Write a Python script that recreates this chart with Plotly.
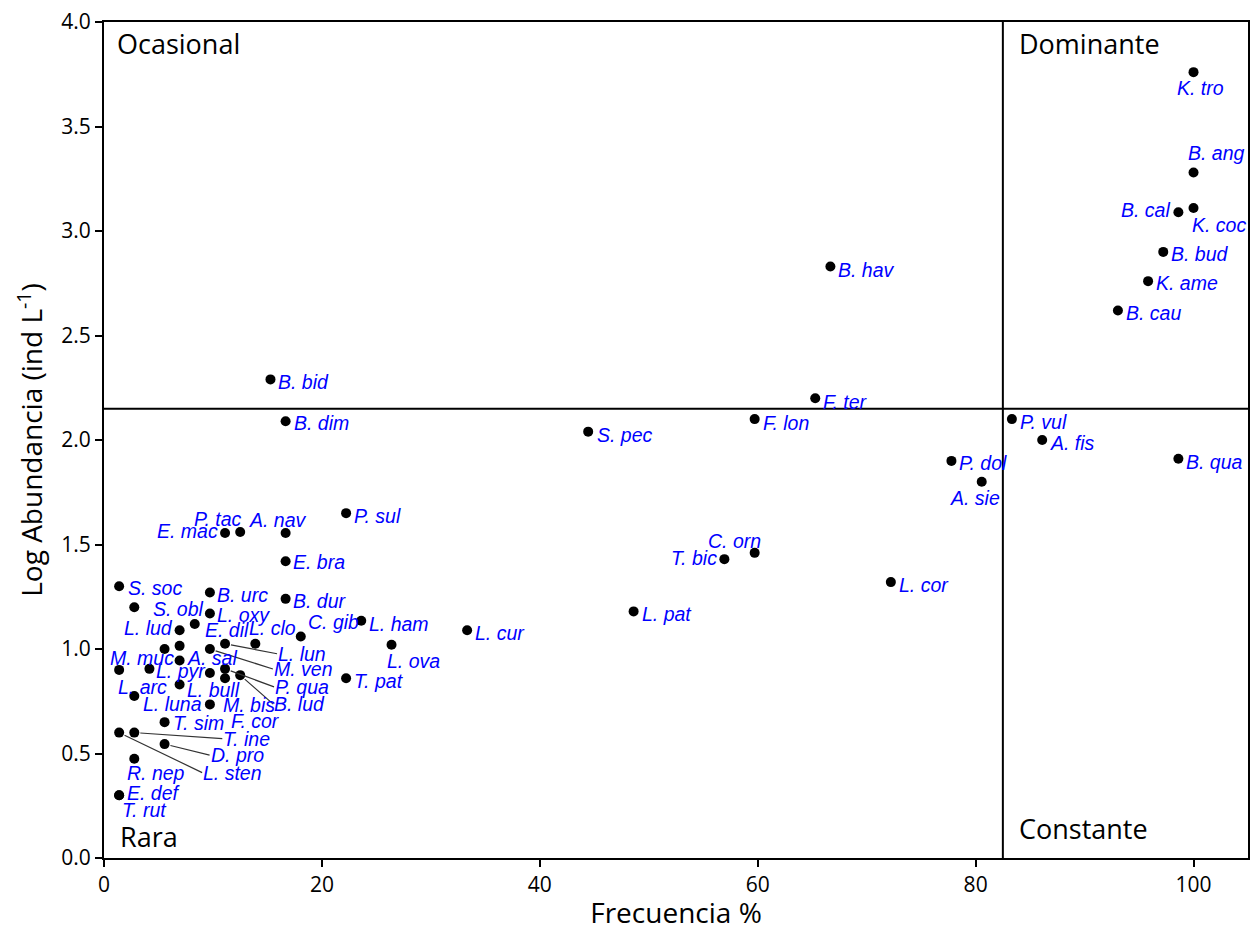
import plotly.graph_objects as go

# Species codes, occurrence frequency (% of 72 samples) and log abundance (ind L-1)
especies = [
    "K. tro", "B. ang", "K. coc", "B. cal", "B. bud", "K. ame", "B. cau",
    "B. hav", "B. bid", "F. ter", "F. lon", "B. dim", "S. pec", "P. vul",
    "A. fis", "P. dol", "A. sie", "B. qua", "P. sul", "E. mac", "P. tac",
    "A. nav", "E. bra", "C. orn", "T. bic", "L. cor", "L. pat", "L. cur",
    "L. ova", "L. ham", "C. gib", "B. dur", "T. pat", "S. soc", "S. obl",
    "B. urc", "L. oxy", "E. dil", "L. lud", "", "", "M. ven", "L. lun",
    "L. clo", "M. muc", "L. pyr", "A. sal", "L. luna", "P. qua", "F. cor",
    "B. lud", "L. bull", "L. arc", "M. bis", "T. sim", "L. sten", "T. ine",
    "D. pro", "R. nep", "E. def", "T. rut",
]
frecuencia = [
    100, 100, 100, 98.61, 97.22, 95.83, 93.06,
    66.67, 15.28, 65.28, 59.72, 16.67, 44.44, 83.33,
    86.11, 77.78, 80.56, 98.61, 22.22, 11.11, 12.5,
    16.67, 16.67, 59.72, 56.94, 72.22, 48.61, 33.33,
    26.39, 23.61, 18.06, 16.67, 22.22, 1.39, 2.78,
    9.72, 9.72, 8.33, 6.94, 5.56, 6.94, 9.72, 11.11,
    13.89, 1.39, 4.17, 6.94, 9.72, 11.11, 11.11,
    12.5, 6.94, 2.78, 9.72, 5.56, 1.39, 2.78,
    5.56, 2.78, 1.39, 1.39,
]
log_abundancia = [
    3.76, 3.28, 3.11, 3.09, 2.90, 2.76, 2.62,
    2.83, 2.29, 2.20, 2.10, 2.09, 2.04, 2.10,
    2.00, 1.90, 1.80, 1.91, 1.65, 1.555, 1.56,
    1.555, 1.42, 1.46, 1.43, 1.32, 1.18, 1.09,
    1.02, 1.135, 1.06, 1.24, 0.86, 1.30, 1.20,
    1.27, 1.17, 1.12, 1.09, 1.00, 1.015, 1.00, 1.025,
    1.025, 0.90, 0.905, 0.945, 0.885, 0.905, 0.86,
    0.875, 0.83, 0.775, 0.735, 0.65, 0.60, 0.60,
    0.545, 0.475, 0.30, 0.30,
]

# Olmstead-Tukey cut-offs (mean frequency and mean log abundance)
corte_frecuencia = 82.5
corte_abundancia = 2.15

# Label placement: (mode, dx, dy) in pixels from the point;
# "l" = text starts at dx, "r" = text ends at dx, "seg" = text joined by a leader line
colocacion = {
    "K. tro": ("l", -18, 16), "B. ang": ("l", -7, -19), "K. coc": ("l", -3, 17),
    "B. cal": ("r", -7, -2), "B. bud": ("l", 7, 2), "K. ame": ("l", 7, 2),
    "B. cau": ("l", 7, 3), "B. hav": ("l", 7, 3), "B. bid": ("l", 7, 3),
    "F. ter": ("l", 7, 4), "F. lon": ("l", 7, 4), "B. dim": ("l", 7, 2),
    "S. pec": ("l", 8, 3), "P. vul": ("l", 7, 3), "A. fis": ("l", 7, 3),
    "P. dol": ("l", 7, 2), "A. sie": ("l", -33, 16), "B. qua": ("l", 7, 3),
    "P. sul": ("l", 7, 3), "E. mac": ("r", -6, -2), "P. tac": ("r", 3, -13),
    "A. nav": ("l", -38, -13), "E. bra": ("l", 6, 1), "C. orn": ("l", -48, -12),
    "T. bic": ("r", -6, -1), "L. cor": ("l", 7, 3), "L. pat": ("l", 7, 3),
    "L. cur": ("l", 7, 3), "L. ova": ("l", -6, 16), "L. ham": ("l", 7, 3),
    "C. gib": ("l", 6, -14), "B. dur": ("l", 6, 2), "T. pat": ("l", 7, 3),
    "S. soc": ("l", 8, 2), "S. obl": ("l", 18, 2), "B. urc": ("l", 6, 2),
    "L. oxy": ("l", 6, 2), "E. dil": ("l", 9, 6), "L. lud": ("r", -6, -2),
    "M. ven": ("seg", 63, 20), "L. lun": ("seg", 52, 10), "L. clo": ("l", -7, -16),
    "M. muc": ("l", -10, -12), "L. pyr": ("l", 6, 2), "A. sal": ("l", 6, -3),
    "L. luna": ("r", -7, 31), "P. qua": ("seg", 49, 18), "F. cor": ("l", 5, 43),
    "B. lud": ("seg", 33, 29), "L. bull": ("l", 6, 5), "L. arc": ("l", -17, -9),
    "M. bis": ("l", 12, 1), "T. sim": ("l", 7, 1), "L. sten": ("seg", 83, 40),
    "T. ine": ("seg", 88, 6), "D. pro": ("seg", 45, 11), "R. nep": ("l", -8, 14),
    "E. def": ("l", 7, -2), "T. rut": ("l", 2, 15),
}

fuente_etiqueta = dict(family="Liberation Sans, Arial, sans-serif", size=19.5, color="#0000ff")
fuente_texto = "Open Sans, Noto Sans, sans-serif"

fig = go.Figure()

fig.add_trace(go.Scatter(
    x=frecuencia, y=log_abundancia, mode="markers",
    marker=dict(color="black", size=10),
    hovertext=especies, showlegend=False,
))

# quadrant dividers
fig.add_shape(type="line", xref="x", yref="y", x0=corte_frecuencia, x1=corte_frecuencia,
              y0=0, y1=4, line=dict(color="black", width=2))
fig.add_shape(type="line", xref="x", yref="y", x0=0, x1=105,
              y0=corte_abundancia, y1=corte_abundancia, line=dict(color="black", width=2))

anotaciones = []
for nombre, fx, ly in zip(especies, frecuencia, log_abundancia):
    if not nombre:
        continue
    modo, dx, dy = colocacion[nombre]
    texto = f"<i>{nombre}</i>"
    if modo == "seg":
        anotaciones.append(dict(
            x=fx, y=ly, text=texto, showarrow=True, arrowhead=0, arrowwidth=1.2,
            arrowcolor="#333333", ax=dx, ay=dy, xanchor="left", yanchor="middle",
            standoff=6, font=fuente_etiqueta, borderpad=0,
        ))
    else:
        anotaciones.append(dict(
            x=fx, y=ly, text=texto, showarrow=False,
            xanchor="left" if modo == "l" else "right", yanchor="middle",
            xshift=dx, yshift=-dy, font=fuente_etiqueta, borderpad=0,
        ))

# quadrant names
cuadrantes = [
    ("Ocasional", 0, 4, 11, -1, "top"),
    ("Dominante", corte_frecuencia, 4, 14, -1, "top"),
    ("Rara", 0, 0, 14, 1, "bottom"),
    ("Constante", corte_frecuencia, 0, 14, 9, "bottom"),
]
for texto, qx, qy, sx, sy, ya in cuadrantes:
    anotaciones.append(dict(
        x=qx, y=qy, text=texto, showarrow=False, xanchor="left", yanchor=ya,
        xshift=sx, yshift=sy, font=dict(family=fuente_texto, size=27, color="black"),
    ))

fig.update_layout(
    width=1257, height=931,
    margin=dict(l=104, r=7, t=22, b=73),
    plot_bgcolor="white", paper_bgcolor="white",
    annotations=anotaciones,
    font=dict(family=fuente_texto, color="black"),
)
fig.update_xaxes(
    range=[0, 105], tickvals=[0, 20, 40, 60, 80, 100],
    showgrid=False, zeroline=False, showline=True, mirror=True,
    linecolor="black", linewidth=2, ticks="outside", ticklen=7, tickwidth=1.5,
    tickcolor="black", tickfont=dict(size=21, family=fuente_texto),
    title=dict(text="Frecuencia %", font=dict(size=28, family=fuente_texto), standoff=6),
)
fig.update_yaxes(
    range=[0, 4], tickvals=[0, 0.5, 1, 1.5, 2, 2.5, 3, 3.5, 4], tickformat=".1f",
    showgrid=False, zeroline=False, showline=True, mirror=True,
    linecolor="black", linewidth=2, ticks="outside", ticklen=7, tickwidth=1.5,
    tickcolor="black", tickfont=dict(size=21, family=fuente_texto),
    title=dict(text="Log Abundancia (ind L<sup>-1</sup>)",
               font=dict(size=28, family=fuente_texto), standoff=10),
)

fig.write_html("out.html")
